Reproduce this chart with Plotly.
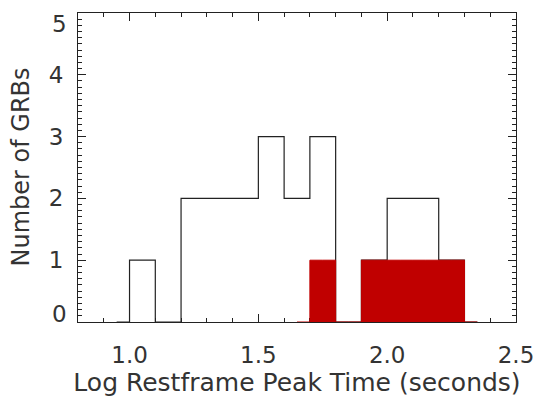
import plotly.graph_objects as go

# Histogram bins (centers, width 0.1) of log restframe peak time
bin_centers = [0.95, 1.05, 1.15, 1.25, 1.35, 1.45, 1.55, 1.65, 1.75, 1.85,
               1.95, 2.05, 2.15, 2.25, 2.35]
all_counts = [0, 1, 0, 2, 2, 2, 3, 2, 3, 0, 1, 2, 2, 1, 0]

red_centers = [1.65, 1.75, 1.85, 1.95, 2.05, 2.15, 2.25, 2.35]
red_counts = [0, 1, 0, 1, 1, 1, 1, 0]

x_ticks = [1.0, 1.5, 2.0, 2.5]
x_ticklabels = ["1.0", "1.5", "2.0", "2.5"]
y_ticks = [0, 1, 2, 3, 4, 5]
y_ticklabels = ["0", "1", "2", "3", "4", "5"]

fig = go.Figure()
fig.add_trace(go.Scatter(
    x=bin_centers, y=all_counts, mode="lines",
    line=dict(shape="hvh", color="#222222", width=1.2),
    showlegend=False, hoverinfo="skip"))
fig.add_trace(go.Scatter(
    x=red_centers, y=red_counts, mode="lines",
    line=dict(shape="hvh", color="#C00000", width=1),
    fill="tozeroy", fillcolor="#C00000",
    showlegend=False, hoverinfo="skip"))

FAM = "DejaVu Sans"
TXT = "#333333"
font = dict(family=FAM, size=23, color=TXT)
axis_common = dict(
    showline=True, linecolor="#222222", linewidth=1, mirror="ticks",
    ticks="inside", tickcolor="#222222", tickwidth=1, ticklen=8,
    showgrid=False, zeroline=False, tickfont=font, layer="below traces",
    automargin=False,
)
fig.update_xaxes(
    range=[0.8, 2.5], tickvals=x_ticks, ticktext=x_ticklabels,
    ticklabelstandoff=12,
    minor=dict(dtick=0.1, tick0=0.8, ticks="inside", ticklen=4,
               tickcolor="#222222", tickwidth=1),
    title=dict(text="Log Restframe Peak Time (seconds)",
               font=dict(family=FAM, size=25, color=TXT),
               standoff=4),
    **axis_common)
# end labels (0 and 5) are nudged inward, as in the reference
inner_text = [t if 0 < i < len(y_ticklabels) - 1 else ""
              for i, t in enumerate(y_ticklabels)]
fig.update_yaxes(
    range=[0, 5], tickvals=y_ticks, ticktext=inner_text,
    ticklabelstandoff=9,
    minor=dict(dtick=0.1, tick0=0, ticks="inside", ticklen=4,
               tickcolor="#222222", tickwidth=1),
    **axis_common)
for val, txt, shift in [(y_ticks[0], y_ticklabels[0], 8),
                        (y_ticks[-1], y_ticklabels[-1], -11)]:
    fig.add_annotation(x=0, xref="paper", xanchor="right", xshift=-9,
                       y=val, yref="y", yanchor="middle", yshift=shift,
                       text=txt, showarrow=False, font=font)
# y-axis title placed explicitly
fig.add_annotation(x=0, xref="paper", xanchor="center", xshift=-58,
                   y=0.5, yref="paper", yanchor="middle", textangle=-90,
                   text="Number of GRBs", showarrow=False,
                   font=dict(family=FAM, size=24, color=TXT))
# page body has an 8px margin, so the figure is 8px smaller on each side
fig.update_layout(
    width=536, height=392,
    margin=dict(l=70, r=28, t=5, b=78),
    plot_bgcolor="white", paper_bgcolor="white",
)
fig.write_html("out.html")
